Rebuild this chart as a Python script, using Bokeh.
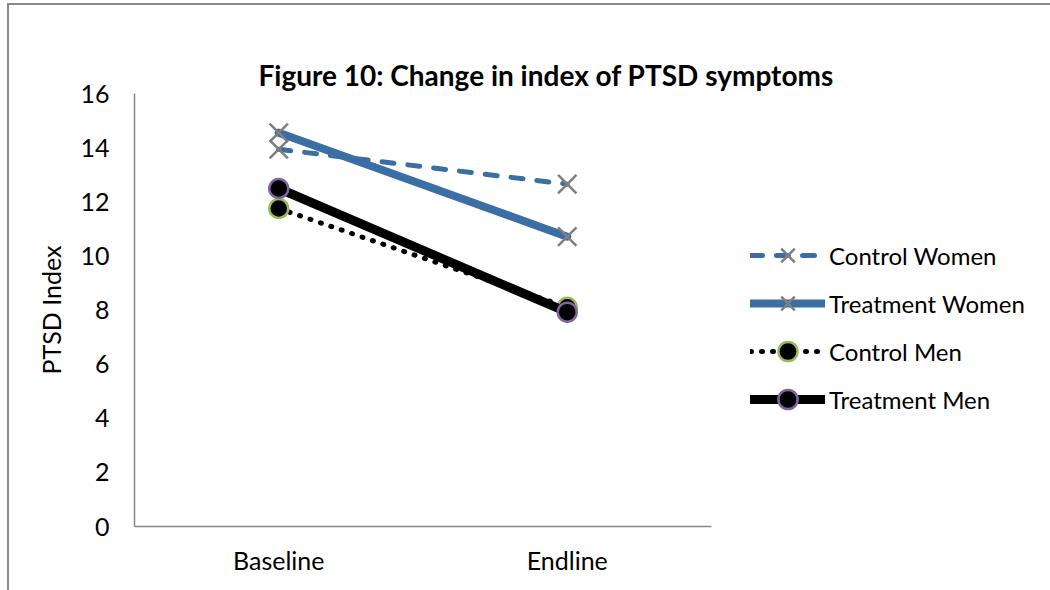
from bokeh.plotting import figure
from bokeh.models import FactorRange, Range1d, FixedTicker, Legend, LegendItem, Title
from bokeh.embed import file_html
from bokeh.resources import INLINE

categories = ["Baseline", "Endline"]
control_women = [13.94, 12.65]
treatment_women = [14.55, 10.71]
control_men = [11.75, 8.10]
treatment_men = [12.49, 7.92]
y_ticks = [0, 2, 4, 6, 8, 10, 12, 14, 16]
title_text = "Figure 10: Change in index of PTSD symptoms"

FONT = "Lato"
BLUE = "#3a6ea5"
GRAY = "#7f7f7f"

p = figure(
    x_range=FactorRange(factors=categories, range_padding=0),
    y_range=Range1d(0, 16),
    frame_width=577, frame_height=433,
    output_backend="svg", toolbar_location=None, title_location=None,
    min_border_left=125, min_border_top=88, min_border_right=0, min_border_bottom=64,
    styles={"margin-left": "7px", "margin-top": "3px",
            "border-left": "2px solid #898989", "border-top": "2px solid #898989"},
)
p.outline_line_color = None
p.xgrid.grid_line_color = None
p.ygrid.grid_line_color = None

title = Title(text=title_text, text_font=FONT, text_font_style="bold", text_font_size="28px",
              align="left", offset=124, standoff=4, text_color="#000000")
p.add_layout(title, "above")
# invisible spacer between frame and title (pushes the title upward)
spacer = Title(text=".", text_font=FONT, text_font_size="20px", standoff=8, text_alpha=0)
p.add_layout(spacer, "above")

for ax in (p.xaxis[0], p.yaxis[0]):
    ax.axis_line_color = "#868686"
    ax.axis_line_width = 1.5
    ax.major_tick_line_color = None
    ax.minor_tick_line_color = None
    ax.major_label_text_font = FONT
    ax.major_label_text_font_size = "25px"
    ax.major_label_text_color = "#000000"

p.yaxis[0].ticker = FixedTicker(ticks=y_ticks)
p.yaxis[0].major_label_standoff = 19
p.yaxis[0].axis_label = "PTSD Index"
p.yaxis[0].axis_label_text_font = FONT
p.yaxis[0].axis_label_text_font_size = "25px"
p.yaxis[0].axis_label_text_font_style = "normal"
p.yaxis[0].axis_label_text_color = "#000000"
p.yaxis[0].axis_label_standoff = 11
p.xaxis[0].major_label_standoff = 12

r1 = p.line(categories, control_women, line_color=BLUE, line_width=5, line_dash="12 14", line_cap="round")
s1 = p.scatter(categories, control_women, marker="x", size=26, line_color=GRAY, line_width=2.5)
r2 = p.line(categories, treatment_women, line_color=BLUE, line_width=8, line_cap="round")
s2 = p.scatter(categories, treatment_women, marker="x", size=26, line_color=GRAY, line_width=2.5)
r3 = p.line(categories, control_men, line_color="#000000", line_width=5, line_dash="1 10", line_cap="round")
s3 = p.scatter(categories, control_men, marker="circle", size=19, fill_color="#000000", line_color="#9bbb59", line_width=2.5)
r4 = p.line(categories, treatment_men, line_color="#000000", line_width=9, line_cap="round")
s4 = p.scatter(categories, treatment_men, marker="circle", size=19, fill_color="#000000", line_color="#8064a2", line_width=2.5)

legend = Legend(
    items=[
        LegendItem(label="Control Women", renderers=[r1, s1]),
        LegendItem(label="Treatment Women", renderers=[r2, s2]),
        LegendItem(label="Control Men", renderers=[r3, s3]),
        LegendItem(label="Treatment Men", renderers=[r4, s4]),
    ],
    location=(39, 103),
    glyph_width=75, glyph_height=48, label_height=48, spacing=0,
    padding=0, margin=0, label_standoff=4,
    border_line_color=None, background_fill_alpha=0,
    label_text_font=FONT, label_text_font_size="24px", label_text_color="#000000",
)
p.add_layout(legend, "right")

open("out.html", "w").write(file_html(p, INLINE))
